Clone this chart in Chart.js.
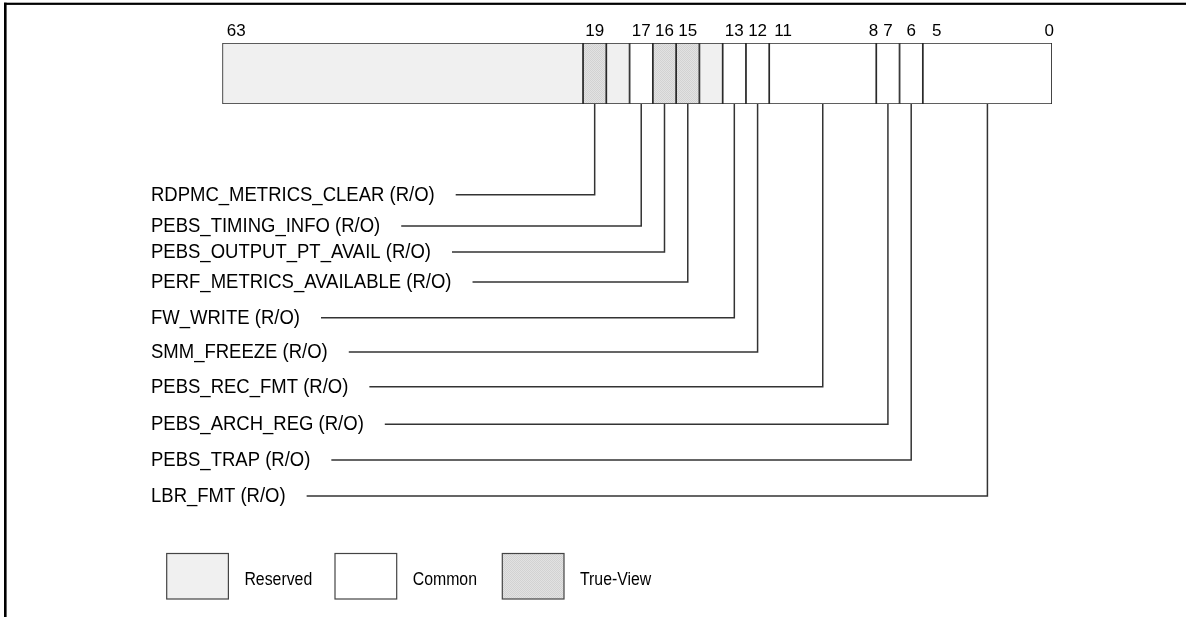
<!DOCTYPE html>
<html>
<head>
<meta charset="utf-8">
<script src="https://cdn.jsdelivr.net/npm/chart.js@4/dist/chart.umd.min.js"></script>
<style>
  html, body { margin: 0; padding: 0; background: #ffffff; }
  #c { display: block; }
</style>
</head>
<body>
<canvas id="c" width="1186" height="617"></canvas>
<script>
// ---- Register field data (bit ranges of the MSR) ----
const fieldHi   = [63, 19, 18, 17, 16, 15, 14, 13, 12, 11, 7, 6, 5];
const fieldLo   = [20, 19, 18, 17, 16, 15, 14, 13, 12,  8, 7, 6, 0];
const fieldType = ['Reserved','True-View','Reserved','Common','True-View','True-View','Reserved',
                   'Common','Common','Common','Common','Common','Common'];
const fieldName = ['', 'RDPMC_METRICS_CLEAR (R/O)', '', 'PEBS_TIMING_INFO (R/O)',
                   'PEBS_OUTPUT_PT_AVAIL (R/O)', 'PERF_METRICS_AVAILABLE (R/O)', '',
                   'FW_WRITE (R/O)', 'SMM_FREEZE (R/O)', 'PEBS_REC_FMT (R/O)',
                   'PEBS_ARCH_REG (R/O)', 'PEBS_TRAP (R/O)', 'LBR_FMT (R/O)'];
// drawn width of each field, in single-bit cells (diagram is not to scale)
const fieldCells = [15.5, 1, 1, 1, 1, 1, 1, 1, 1, 4.6, 1, 1, 5.55];
// bit numbers printed above the register
const bitTickLabels = ['63','19','17','16','15','13','12','11','8','7','6','5','0'];
const legendTypes = ['Reserved', 'Common', 'True-View'];

// ---- layout / style (not data) ----
const FONT = '"Liberation Sans", Arial, sans-serif';
const rowY = [194.7, 226, 252, 282, 317.7, 352, 386.7, 424.3, 460, 496];
const labelLeft = 151;

function makePattern() {
  const p = document.createElement('canvas');
  p.width = 2; p.height = 2;
  const g = p.getContext('2d');
  g.fillStyle = '#e2e2e2'; g.fillRect(0, 0, 2, 2);
  g.fillStyle = '#d2d2d2'; g.fillRect(0, 0, 1, 1); g.fillRect(1, 1, 1, 1);
  return document.getElementById('c').getContext('2d').createPattern(p, 'repeat');
}
const trueViewPattern = makePattern();
const typeFill = { 'Reserved': '#f0f0f0', 'Common': '#ffffff', 'True-View': trueViewPattern };

// cumulative starts (cells) from field widths
const fieldStart = [];
let acc = 0;
fieldCells.forEach((w, i) => { fieldStart.push(acc); acc += w; });
const totalCells = acc;

// tick positions for bit labels derived from fields
const bitTickValues = bitTickLabels.map(lbl => {
  const b = +lbl;
  const i = fieldHi.findIndex((h, k) => h === b || fieldLo[k] === b);
  const s = fieldStart[i], e = s + fieldCells[i];
  if (fieldHi[i] === fieldLo[i]) return (s + e) / 2;
  if (fieldHi[i] === b) return s + 0.6;
  return e - 0.12;
});

const datasets = fieldHi.map((h, i) => ({
  label: fieldName[i] || fieldType[i],
  data: [[fieldStart[i], fieldStart[i] + fieldCells[i]]],
  backgroundColor: typeFill[fieldType[i]],
  borderColor: '#2a2a2a',
  borderWidth: 1.2,
  borderSkipped: false,
  grouped: false,
  barPercentage: 1,
  categoryPercentage: 1
}));

const diagramPlugin = {
  id: 'diagram',
  afterDraw(chart) {
    const ctx = chart.ctx;
    const xs = chart.scales.x;
    const barBottom = chart.chartArea.bottom;
    ctx.save();
    // frame
    ctx.fillStyle = '#000';
    ctx.fillRect(4, 2.7, 1182, 2.2);
    ctx.fillRect(4, 2.7, 2.6, 617);

    // labels + leader lines
    let row = 0;
    fieldName.forEach((name, i) => {
      if (!name) return;
      const y = rowY[row++];
      const cx = xs.getPixelForValue(fieldStart[i] + fieldCells[i] / 2);
      ctx.font = '20px ' + FONT;
      ctx.textBaseline = 'middle';
      ctx.textAlign = 'left';
      ctx.fillStyle = '#000';
      const sx = 0.925;
      const w = ctx.measureText(name).width * sx;
      ctx.save();
      ctx.translate(labelLeft, y + 0.5);
      ctx.scale(sx, 1);
      ctx.fillText(name, 0, 0);
      ctx.restore();
      ctx.beginPath();
      ctx.strokeStyle = '#333';
      ctx.lineWidth = 1.5;
      ctx.moveTo(labelLeft + w + 21, y);
      ctx.lineTo(cx, y);
      ctx.lineTo(cx, barBottom);
      ctx.stroke();
    });

    // legend
    const boxX = [166.7, 335, 502.3];
    legendTypes.forEach((t, k) => {
      const bx = boxX[k], by = 553.5, bw = 61.7, bh = 45.5;
      ctx.fillStyle = typeFill[t];
      ctx.fillRect(bx, by, bw, bh);
      ctx.strokeStyle = '#444';
      ctx.lineWidth = 1.2;
      ctx.strokeRect(bx, by, bw, bh);
      ctx.fillStyle = '#000';
      ctx.font = '18px ' + FONT;
      ctx.textBaseline = 'middle';
      ctx.save();
      ctx.translate(bx + bw + 16, 580);
      ctx.scale(0.88, 1);
      ctx.fillText(t, 0, 0);
      ctx.restore();
    });
    ctx.restore();
  }
};

new Chart(document.getElementById('c'), {
  type: 'bar',
  data: { labels: ['MSR'], datasets },
  options: {
    indexAxis: 'y',
    responsive: false,
    animation: false,
    events: [],
    layout: { padding: { left: 222.3, right: 134, top: 20, bottom: 513 } },
    plugins: { legend: { display: false }, tooltip: { enabled: false } },
    scales: {
      x: {
        type: 'linear',
        position: 'top',
        min: 0,
        max: totalCells,
        grid: { display: false, drawTicks: false },
        border: { display: false },
        afterBuildTicks: (axis) => { axis.ticks = bitTickValues.map(v => ({ value: v })); },
        ticks: {
          autoSkip: false,
          maxRotation: 0,
          padding: 1.3,
          color: '#000',
          font: { family: FONT, size: 17 },
          callback: (v, idx) => bitTickLabels[idx]
        }
      },
      y: { display: false }
    }
  },
  plugins: [diagramPlugin]
});
</script>
</body>
</html>
